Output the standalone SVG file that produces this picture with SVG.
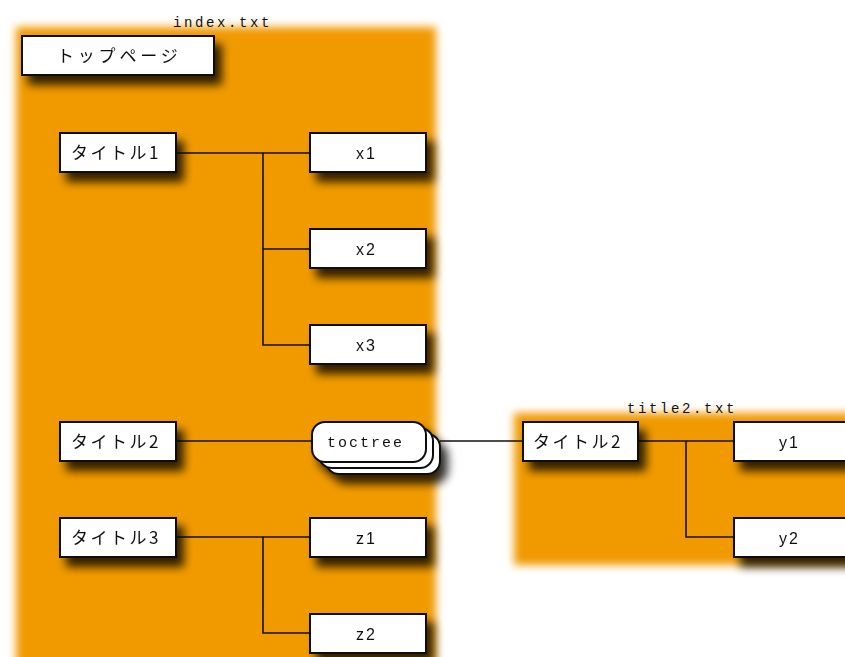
<svg xmlns="http://www.w3.org/2000/svg" width="845" height="657" viewBox="0 0 845 657">
  <defs>
    <filter id="soft" x="-10%" y="-10%" width="120%" height="120%">
      <feGaussianBlur stdDeviation="4"/>
    </filter>
    <filter id="drop" x="-20%" y="-40%" width="160%" height="200%">
      <feGaussianBlur in="SourceAlpha" stdDeviation="5"/>
      <feOffset dx="7" dy="9" result="b"/>
      <feComponentTransfer in="b" result="s">
        <feFuncA type="linear" slope="0.8"/>
      </feComponentTransfer>
      <feMerge>
        <feMergeNode in="s"/>
        <feMergeNode in="SourceGraphic"/>
      </feMerge>
    </filter>
  </defs>
  <style>
    .area { fill: #F09A04; }
    .box { fill: #ffffff; stroke: #111111; stroke-width: 2; }
    .jp { font-family: "Noto Sans CJK JP", "Noto Sans", sans-serif; font-size: 17px; fill: #111111; letter-spacing: 2.5px; }
    .jp-wide { letter-spacing: 3.8px; }
    .lbl { font-family: "Liberation Sans", "Noto Sans", sans-serif; font-size: 16px; fill: #111111; letter-spacing: 2px; }
    .mono { font-family: "Liberation Mono", "DejaVu Sans Mono", monospace; font-size: 14px; fill: #111111; letter-spacing: 2.6px; }
    .wire { fill: none; stroke: #111111; stroke-width: 1.6; }
  </style>

  <rect width="845" height="657" fill="#ffffff"/>

  <!-- file regions -->
  <g id="index-file">
    <rect class="area" x="16" y="27" width="420" height="650" filter="url(#soft)"/>
    <text class="mono" x="173" y="27">index.txt</text>
  </g>
  <g id="title2-file">
    <rect class="area" x="514" y="413" width="350" height="152" filter="url(#soft)"/>
    <text class="mono" x="627" y="413">title2.txt</text>
  </g>

  <!-- connectors -->
  <g id="connectors">
    <path class="wire" d="M176 153 H310 M263 153 V345 H310 M263 249 H310"/>
    <path class="wire" d="M176 441 H312"/>
    <path class="wire" d="M440 441 H523"/>
    <path class="wire" d="M176 537 H310 M263 537 V633 H310"/>
    <path class="wire" d="M638 441 H734 M686 441 V537 H734"/>
  </g>

  <!-- nodes -->
  <g id="top-page" filter="url(#drop)">
    <rect class="box" x="22" y="36" width="192" height="39"/>
    <text class="jp jp-wide" x="57" y="62">トップページ</text>
  </g>
  <g id="title1" filter="url(#drop)">
    <rect class="box" x="60" y="133" width="116" height="39"/>
    <text class="jp" x="71" y="159">タイトル1</text>
  </g>
  <g id="x1" filter="url(#drop)">
    <rect class="box" x="310" y="133" width="116" height="39"/>
    <text class="lbl" x="356" y="159">x1</text>
  </g>
  <g id="x2" filter="url(#drop)">
    <rect class="box" x="310" y="229" width="116" height="39"/>
    <text class="lbl" x="356" y="255">x2</text>
  </g>
  <g id="x3" filter="url(#drop)">
    <rect class="box" x="310" y="325" width="116" height="39"/>
    <text class="lbl" x="356" y="351">x3</text>
  </g>
  <g id="title2" filter="url(#drop)">
    <rect class="box" x="60" y="422" width="116" height="39"/>
    <text class="jp" x="71" y="448">タイトル2</text>
  </g>
  <g id="toctree" filter="url(#drop)">
    <rect class="box" x="326" y="434" width="114" height="40" rx="13"/>
    <rect class="box" x="319" y="428" width="114" height="40" rx="13"/>
    <rect class="box" x="312" y="422" width="114" height="40" rx="13"/>
    <text class="mono" x="327" y="447" style="font-size:15px;letter-spacing:2px">toctree</text>
  </g>
  <g id="title3" filter="url(#drop)">
    <rect class="box" x="60" y="518" width="116" height="39"/>
    <text class="jp" x="71" y="544">タイトル3</text>
  </g>
  <g id="z1" filter="url(#drop)">
    <rect class="box" x="310" y="518" width="116" height="39"/>
    <text class="lbl" x="356" y="544">z1</text>
  </g>
  <g id="z2" filter="url(#drop)">
    <rect class="box" x="310" y="614" width="116" height="39"/>
    <text class="lbl" x="356" y="640">z2</text>
  </g>
  <g id="title2-root" filter="url(#drop)">
    <rect class="box" x="523" y="422" width="115" height="39"/>
    <text class="jp" x="533" y="448">タイトル2</text>
  </g>
  <g id="y1" filter="url(#drop)">
    <rect class="box" x="734" y="422" width="120" height="39"/>
    <text class="lbl" x="779" y="448">y1</text>
  </g>
  <g id="y2" filter="url(#drop)">
    <rect class="box" x="734" y="518" width="120" height="39"/>
    <text class="lbl" x="779" y="544">y2</text>
  </g>
</svg>
